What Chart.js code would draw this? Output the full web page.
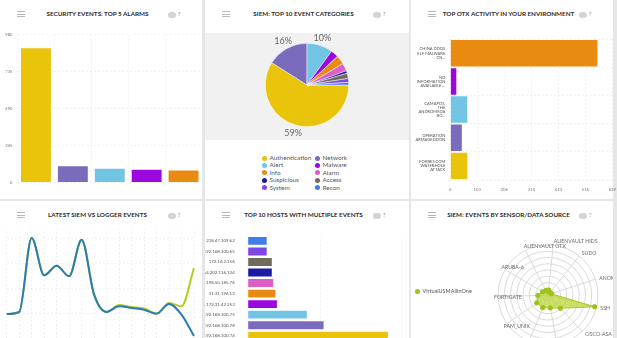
<!DOCTYPE html>
<html>
<head>
<meta charset="utf-8">
<title>Security dashboard</title>
<script src="https://cdn.jsdelivr.net/npm/chart.js@4.4.1/dist/chart.umd.min.js"></script>
<style>
  html, body { margin: 0; padding: 0; }
  body {
    position: relative;
    width: 617px;
    height: 338px;
    overflow: hidden;
    background: #e6e6e6;
    font-family: Lato, "Open Sans", sans-serif;
  }
  .panel { position: absolute; background: #fff; }
  .title {
    position: absolute; left: 0; right: 7px; top: 10px;
    text-align: center; font-size: 6.3px; font-weight: 700; color: #2b2b2b;
    line-height: 8px; white-space: nowrap;
  }
  .burger {
    position: absolute; left: 17px; top: 11px; width: 8px; height: 4px;
    border-top: 1px solid #b8b8b8; border-bottom: 1px solid #b8b8b8;
  }
  .burger::after {
    content: ""; position: absolute; left: 0; right: 0; top: 2px;
    border-top: 1px solid #b8b8b8;
  }
  .help { position: absolute; left: 168px; top: 10px; font-size: 5px; color: #777; line-height: 8px; }
  .help i {
    display: inline-block; width: 8px; height: 6px; border-radius: 3px;
    background: #d4d4d4; margin-right: 2px; vertical-align: middle;
  }
  .box { position: absolute; }
  #pieLegend {
    position: absolute; left: 262px; top: 154px;
    display: grid; grid-template-columns: 53px 60px;
    font-size: 6.4px; line-height: 7.4px; color: #555;
  }
  #pieLegend span, #radarLegend span {
    display: inline-block; width: 5px; height: 5px; border-radius: 50%;
    margin-right: 2.5px; vertical-align: -0.5px;
  }
  #radarLegend {
    position: absolute; left: 415px; top: 287px;
    font-size: 5.5px; line-height: 8px; color: #555;
  }
</style>
</head>
<body>

<div class="panel" style="left:0;top:0;width:202px;height:199px">
  <div class="burger"></div><div class="title">SECURITY EVENTS: TOP 5 ALARMS</div><div class="help"><i></i>?</div>
</div>
<div class="panel" style="left:205px;top:0;width:204px;height:199px">
  <div class="burger"></div><div class="title">SIEM: TOP 10 EVENT CATEGORIES</div><div class="help"><i></i>?</div>
</div>
<div class="panel" style="left:411px;top:0;width:202px;height:199px">
  <div class="burger"></div><div class="title">TOP OTX ACTIVITY IN YOUR ENVIRONMENT</div><div class="help"><i></i>?</div>
</div>
<div class="panel" style="left:0;top:201px;width:202px;height:137px">
  <div class="burger"></div><div class="title">LATEST SIEM VS LOGGER EVENTS</div><div class="help"><i></i>?</div>
</div>
<div class="panel" style="left:205px;top:201px;width:204px;height:137px">
  <div class="burger"></div><div class="title">TOP 10 HOSTS WITH MULTIPLE EVENTS</div><div class="help"><i></i>?</div>
</div>
<div class="panel" style="left:411px;top:201px;width:202px;height:137px">
  <div class="burger"></div><div class="title">SIEM: EVENTS BY SENSOR/DATA SOURCE</div><div class="help"><i></i>?</div>
</div>

<div class="box" style="left:0;top:27px;width:202px;height:163px"><canvas id="alarmsChart"></canvas></div>
<div class="box" style="left:205px;top:33px;width:204px;height:107px;background:#f1f1f1"><canvas id="categoriesChart"></canvas></div>
<div id="pieLegend"></div>
<div class="box" style="left:411px;top:28px;width:212px;height:170px"><canvas id="otxChart"></canvas></div>
<div class="box" style="left:0;top:228px;width:202px;height:140px"><canvas id="eventsChart"></canvas></div>
<div class="box" style="left:205px;top:228px;width:204px;height:140px"><canvas id="hostsChart"></canvas></div>
<div class="box" style="left:411px;top:222px;width:202px;height:146px"><canvas id="sourcesChart"></canvas></div>
<div id="radarLegend"></div>

<script>
// shared colour order used by every widget
const palette = ["#e9c40a", "#7a6bbd", "#72c4e4", "#9a08de", "#e88b10", "#db5fc8", "#1d1ba5", "#716b5e", "#7c47e4", "#3d7ee8"];
const faintGrid = "rgba(0,0,0,0.05)";

// top 5 alarms
const alarmRanks = ["1", "2", "3", "4", "5"];
const alarmCounts = [889, 108, 91, 84, 80];
const alarmTicks = [0, 245, 490, 735, 980];

// event categories (share in %)
const categoryNames = ["Authentication", "Network", "Alert", "Malware", "Info", "Alarm", "Suspicious", "Access", "System", "Recon"];
const categoryShares = [59, 16, 10, 3, 3.5, 3, 1, 2, 1.5, 1];

// OTX pulses
const otxPulses = [
  ["CHINA DDOS", "ELF MALWARE", "CN..."],
  ["NO", "INFORMATION", "AVAILABLE...."],
  ["CAMAPOS,", "THE", "ANDROMEDA", "BO..."],
  ["OPERATION", "ARMAGEDDON"],
  ["FORBES.COM", "WATERHOLE", "ATTACK"]
];
const otxHits = [562, 23, 65, 44, 65];
const otxTicks = [0, 103, 206, 310, 413, 516, 619];

// SIEM vs logger
const timeSlots = ["1", "2", "3", "4", "5", "6", "7", "8", "9", "10", "11", "12", "13", "14", "15", "16"];
const siemEvents = [24, 26, 100, 62.7, 72.3, 61.7, 98.3, 43.3, 26, 31.7, 30, 28.3, 24.3, 34, 23.3, 2];
const loggerEvents = [24, 26, 100, 62.7, 72.3, 61.7, 98.3, 43.3, 26, 33, 31, 29.5, 24.5, 35, 31.7, 70];
const eventTicks = [0, 25, 50, 75, 100];

// hosts
const hostNames = ["218.47.109.62", "192.168.100.65", "172.16.2.156", "64.202.116.124", "198.50.185.76", "31.31.196.12", "172.31.42.253", "192.168.100.75", "192.168.100.78", "192.168.100.74"];
const hostEvents = [26, 26, 33, 33, 35, 38, 40, 81, 104, 192];

// events per data source
const sourceNames = ["ALIENVAULT HIDS", "SUDO", "ANOM", "SSH", "CISCO-ASA", "", "", "PAM_UNIX", "FORTIGATE", "ARUBA-6", "ALIENVAULT OTX"];
const sourceEvents = [8, 5, 6, 77, 29, 21, 22, 22, 16, 10, 8];
const sensorName = "VirtualUSMAllInOne";

Chart.defaults.font.family = "Lato, 'Open Sans', sans-serif";
Chart.defaults.color = "#666";
Chart.defaults.animation = false;
Chart.defaults.maintainAspectRatio = false;
Chart.defaults.plugins.legend.display = false;
Chart.defaults.plugins.tooltip.enabled = false;

const hiddenAxis = {
  ticks: { display: false },
  grid: { color: faintGrid, drawTicks: false },
  border: { display: false, dash: [2, 2] }
};

new Chart(document.getElementById("alarmsChart"), {
  type: "bar",
  data: {
    labels: alarmRanks,
    datasets: [{ data: alarmCounts, backgroundColor: palette.slice(0, 5), barPercentage: 0.81, categoryPercentage: 1 }]
  },
  options: {
    layout: { padding: { top: 6, right: 0, bottom: 6, left: 0 } },
    scales: {
      x: hiddenAxis,
      y: {
        min: 0, max: 980,
        afterBuildTicks: (s) => { s.ticks = alarmTicks.map((v) => ({ value: v })); },
        afterFit: (s) => { s.width = 17.5; },
        ticks: { font: { size: 4.2 }, color: "#777", padding: 5 },
        grid: { color: faintGrid, drawTicks: false },
        border: { display: false, dash: [2, 2] }
      }
    }
  }
});

// percentages next to the big slices
const sliceLabels = {
  id: "sliceLabels",
  afterDatasetsDraw(chart) {
    const ctx = chart.ctx;
    const total = categoryShares.reduce((a, b) => a + b, 0);
    ctx.save();
    ctx.font = "9px Lato, sans-serif";
    ctx.fillStyle = "#666";
    ctx.textAlign = "center";
    ctx.textBaseline = "middle";
    chart.getDatasetMeta(0).data.forEach((arc, i) => {
      const pct = Math.round((categoryShares[i] / total) * 100);
      if (pct < 10) return;
      const mid = (arc.startAngle + arc.endAngle) / 2;
      const r = arc.outerRadius + 8;
      ctx.fillText(pct + "%", arc.x + Math.cos(mid) * r, arc.y + Math.sin(mid) * r);
    });
    ctx.restore();
  }
};

new Chart(document.getElementById("categoriesChart"), {
  type: "pie",
  data: {
    labels: categoryNames,
    datasets: [{ data: categoryShares, backgroundColor: palette, borderColor: "#fff", borderWidth: 0.5 }]
  },
  options: {
    rotation: 90,
    layout: { padding: { top: 10, bottom: 13 } }
  },
  plugins: [sliceLabels]
});

document.getElementById("pieLegend").innerHTML = categoryNames
  .map((name, i) => `<div><span style="background:${palette[i]}"></span>${name}</div>`)
  .join("");

new Chart(document.getElementById("otxChart"), {
  type: "bar",
  data: {
    labels: otxPulses,
    datasets: [{ data: otxHits, backgroundColor: palette.slice(0, 5).reverse(), barPercentage: 0.94, categoryPercentage: 1 }]
  },
  options: {
    indexAxis: "y",
    layout: { padding: { top: 5.5, right: 9, bottom: 0, left: 0 } },
    scales: {
      x: {
        min: 0, max: 619,
        afterBuildTicks: (s) => { s.ticks = otxTicks.map((v) => ({ value: v })); },
        afterFit: (s) => { s.height = 18; },
        ticks: { font: { size: 4.2 }, color: "#777", padding: 7 },
        grid: { color: faintGrid, drawTicks: false },
        border: { display: false, dash: [2, 2] }
      },
      y: {
        afterFit: (s) => { s.width = 39.3; },
        ticks: { font: { size: 4.1, lineHeight: 1 }, color: "#555", padding: 5 },
        grid: { color: faintGrid, drawTicks: false },
        border: { display: false, dash: [2, 2] }
      }
    }
  }
});

new Chart(document.getElementById("eventsChart"), {
  type: "line",
  data: {
    labels: timeSlots,
    datasets: [
      { label: "SIEM", data: siemEvents, borderColor: "#2c7cb4", borderWidth: 2, pointRadius: 0, cubicInterpolationMode: "monotone", clip: false },
      { label: "Logger", data: loggerEvents, borderColor: "#b4cc1e", borderWidth: 2, pointRadius: 0, cubicInterpolationMode: "monotone", clip: false }
    ]
  },
  options: {
    layout: { padding: { top: 0, right: 8, bottom: 5, left: 6.7 } },
    scales: {
      x: hiddenAxis,
      y: {
        min: -25, max: 110,
        afterBuildTicks: (s) => { s.ticks = eventTicks.map((v) => ({ value: v })); },
        ticks: { display: false },
        grid: { color: faintGrid, drawTicks: false },
        border: { display: false, dash: [2, 2] }
      }
    }
  }
});

new Chart(document.getElementById("hostsChart"), {
  type: "bar",
  data: {
    labels: hostNames,
    datasets: [{ data: hostEvents, backgroundColor: palette.slice().reverse(), barPercentage: 0.75, categoryPercentage: 1 }]
  },
  options: {
    indexAxis: "y",
    layout: { padding: { top: 6.5, right: 8, bottom: 27, left: 0 } },
    scales: {
      x: Object.assign({ min: 0, max: 210 }, hiddenAxis),
      y: {
        afterFit: (s) => { s.width = 42.7; },
        ticks: { font: { size: 4.4 }, color: "#555", padding: 5 },
        grid: { display: false },
        border: { display: false }
      }
    }
  }
});

// source names, written from the tip of each spoke
const spokeLabels = {
  id: "spokeLabels",
  afterDraw(chart) {
    const scale = chart.scales.r;
    const ctx = chart.ctx;
    ctx.save();
    ctx.font = "5.2px Lato, sans-serif";
    ctx.fillStyle = "#6a6a6a";
    ctx.textAlign = "left";
    ctx.textBaseline = "middle";
    chart.data.labels.forEach((name, i) => {
      if (!name) return;
      const p = scale.getPointPosition(i, scale.drawingArea + 4);
      ctx.fillText(name, p.x, p.y);
    });
    ctx.restore();
  }
};

new Chart(document.getElementById("sourcesChart"), {
  type: "radar",
  data: {
    labels: sourceNames,
    datasets: [{
      label: sensorName, data: sourceEvents,
      backgroundColor: "rgba(186, 214, 48, 0.72)", borderColor: "#a9c824", borderWidth: 1,
      pointBackgroundColor: "#9cc31a", pointBorderColor: "#9cc31a", pointRadius: 2.2
    }]
  },
  options: {
    layout: { padding: { top: 23, right: 15, bottom: 23, left: 87 } },
    scales: {
      r: {
        min: 0, max: 80, startAngle: 6,
        ticks: { display: false, stepSize: 10 },
        grid: { circular: true, color: "#dadada" },
        angleLines: { color: "#dadada" },
        pointLabels: { display: false }
      }
    }
  },
  plugins: [spokeLabels]
});

document.getElementById("radarLegend").innerHTML = `<span style="background:#9cc31a"></span>${sensorName}`;
</script>
</body>
</html>
